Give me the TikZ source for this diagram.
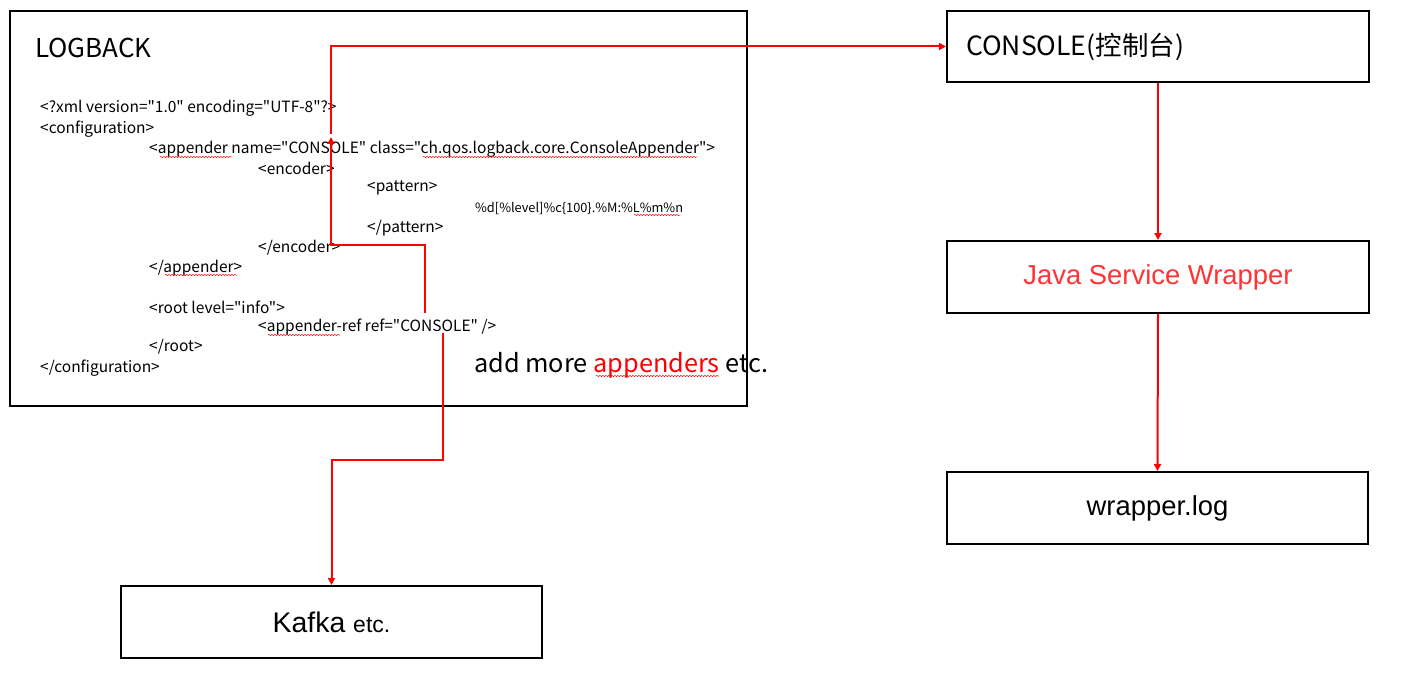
\documentclass[tikz,border=0pt]{standalone}
\usepackage{fontspec}
\setmainfont{Noto Sans CJK SC}[Ligatures=TeXOff]
\newfontfamily\arialf{Liberation Sans}[Ligatures=TeXOff]
\usetikzlibrary{arrows.meta,decorations.pathmorphing}
\definecolor{lred}{RGB}{255,0,0}
\definecolor{jred}{RGB}{255,51,51}
\tikzset{
  box/.style={draw=black, line width=2pt, rectangle, inner sep=0pt},
  arr/.style={draw=lred, line width=2pt, -{Triangle[length=7pt,width=7pt]}},
  code/.style={anchor=west, inner sep=0pt, font=\fontsize{15.5}{17}\selectfont},
  squig/.style={draw=lred, line width=0.5pt, decorate, decoration={snake, amplitude=0.6pt, segment length=3pt}}
}
\begin{document}
\begin{tikzpicture}[x=1pt,y=-1pt]
\useasboundingbox (0,0) rectangle (1411,682);
% boxes
\node[box, minimum width=737pt, minimum height=395pt] (lb) at (378.5,208.5) {};
\node[box, minimum width=422pt, minimum height=71pt] (console) at (1158,46.5) {};
\node[anchor=west, inner sep=0pt, font=\fontsize{26.5}{30}\selectfont] (consoletxt) at (966,47) {CONSOLE(控制台)};
\node[box, minimum width=422pt, minimum height=72pt, font=\arialf\fontsize{27.4}{30}\selectfont, text=jred] (jsw) at (1158,277) {Java Service Wrapper};
\node[box, minimum width=421pt, minimum height=72pt, font=\arialf\fontsize{27.4}{30}\selectfont] (wlog) at (1157.5,508) {wrapper.log};
\node[box, minimum width=421pt, minimum height=72pt, font=\arialf\fontsize{28.4}{30}\selectfont] (kafka) at (331.5,622) {Kafka {\fontsize{23}{26}\selectfont etc.}};
% logback text
\node[anchor=west, inner sep=0pt, font=\fontsize{26}{30}\selectfont] (title) at (35,48) {LOGBACK};
\node[code] (l1) at (40,108) {<?xml version="1.0" encoding="UTF-8"?>};
\node[code] (l2) at (40,129) {<configuration>};
\node[code] (l3) at (149,149) {<appender name="CONSOLE" class="ch.qos.logback.core.ConsoleAppender">};
\node[code] (l4) at (258,168) {<encoder>};
\node[code] (l5) at (367,188) {<pattern>};
\node[code, font=\fontsize{12.8}{15}\selectfont] (l6) at (475,208) {\%d[\%level]\%c\{100\}.\%M:\%L\%m\%n};
\node[code] (l7) at (367,228) {</pattern>};
\node[code] (l8) at (258,248) {</encoder>};
\node[code] (l9) at (149,268) {</appender>};
\node[code] (l10) at (149,307) {<root level="info">};
\node[code] (l11) at (258,327) {<appender-ref ref="CONSOLE" />};
\node[code] (l12) at (149,347) {</root>};
\node[code] (l13) at (40,368) {</configuration>};
\node[anchor=west, inner sep=0pt, font=\fontsize{25.3}{28}\selectfont] (more) at (474,365) {add more \textcolor{lred}{appenders} etc.};
% spell-check squiggles
\coordinate (s1a) at (160,157); \coordinate (s1b) at (232,157);
\coordinate (s2a) at (423,157); \coordinate (s2b) at (697,157);
\coordinate (s3a) at (634,215); \coordinate (s3b) at (680,215);
\coordinate (s4a) at (165,275); \coordinate (s4b) at (237,275);
\coordinate (s5a) at (268,335); \coordinate (s5b) at (340,335);
\coordinate (s6a) at (596,376); \coordinate (s6b) at (719,376);
\foreach \s in {1,...,6} {\draw[squig] (s\s a) -- (s\s b);}
% connectors
\coordinate (u0) at (425,313);
\coordinate (u1) at (331,137);
\coordinate (u2) at (331,134);
\coordinate (d0) at (443,333);
\draw[arr] (u0) -- ++(0,-68) -| (u1);
\draw[arr] (u2) |- (console.west);
\draw[arr] (d0) -- ++(0,127) -| (kafka.north);
\draw[arr] (console.south) -- (jsw.north);
\draw[arr] (jsw.south) -- (wlog.north);
\end{tikzpicture}
\end{document}
